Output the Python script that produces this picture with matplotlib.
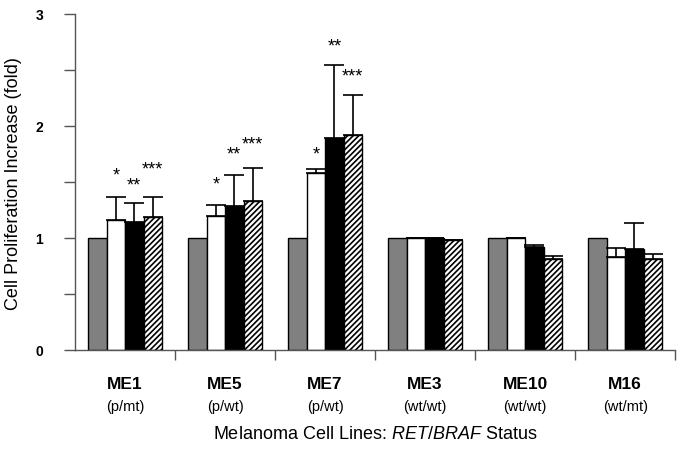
import matplotlib
matplotlib.use('agg')
import matplotlib.pyplot as plt
import numpy as np

plt.rcParams['font.family'] = ['Liberation Sans', 'DejaVu Sans']
plt.rcParams['mathtext.fontset'] = 'custom'
plt.rcParams['mathtext.rm'] = 'Liberation Sans'
plt.rcParams['mathtext.it'] = 'Liberation Sans:italic'
plt.rcParams['hatch.linewidth'] = 1.2

cell_lines = ['ME1', 'ME5', 'ME7', 'ME3', 'ME10', 'M16']
status = ['(p/mt)', '(p/wt)', '(p/wt)', '(wt/wt)', '(wt/wt)', '(wt/mt)']

# four treatments per cell line (gray, white, black, hatched)
control = [1.0, 1.0, 1.0, 1.0, 1.0, 1.0]
white = [1.16, 1.19, 1.58, 0.995, 0.995, 0.83]
black = [1.14, 1.28, 1.89, 0.995, 0.92, 0.90]
hatched = [1.18, 1.33, 1.92, 0.98, 0.81, 0.805]

white_err = [0.20, 0.105, 0.03, 0.005, 0.005, 0.08]
black_err = [0.17, 0.28, 0.655, 0.005, 0.015, 0.23]
hatched_err = [0.18, 0.295, 0.355, 0.0, 0.03, 0.045]

white_star = ['*', '*', '*', '', '', '']
black_star = ['**', '**', '**', '', '', '']
hatched_star = ['***', '***', '***', '', '', '']
white_star_y = [1.56, 1.48, 1.75]
black_star_y = [1.47, 1.75, 2.71]
hatched_star_y = [1.61, 1.84, 2.44]


def main():
    fig = plt.figure(figsize=(6.82, 4.56), dpi=100)
    ax = fig.add_axes([0.110, 0.231, 0.880, 0.737])

    x = np.arange(len(cell_lines))
    w = 0.185
    offs = [-1.5 * w, -0.5 * w, 0.5 * w, 1.5 * w]
    zeros = [0] * len(x)
    ekw = dict(ecolor='black', elinewidth=1.2, capsize=7, capthick=1.2)

    ax.bar(x + offs[0], control, w, color='#808080', edgecolor='black', linewidth=1.0)
    ax.bar(x + offs[1], white, w, color='white', edgecolor='black', linewidth=1.0,
           yerr=[zeros, white_err], error_kw=ekw)
    ax.bar(x + offs[2], black, w, color='black', edgecolor='black', linewidth=1.0,
           yerr=[zeros, black_err], error_kw=ekw)
    ax.bar(x + offs[3], hatched, w, color='white', edgecolor='black', linewidth=1.0,
           hatch='//////', yerr=[zeros, hatched_err], error_kw=ekw)

    for i in range(3):
        ax.text(x[i] + offs[1], white_star_y[i], white_star[i], ha='center', va='center', fontsize=13)
        ax.text(x[i] + offs[2], black_star_y[i], black_star[i], ha='center', va='center', fontsize=13)
        ax.text(x[i] + offs[3], hatched_star_y[i], hatched_star[i], ha='center', va='center', fontsize=13)

    ax.set_xlim(-0.5, len(x) - 0.5)
    ax.set_ylim(0, 3)
    for s in ['top', 'right']:
        ax.spines[s].set_visible(False)
    for s in ['left', 'bottom']:
        ax.spines[s].set_color('#555555')
        ax.spines[s].set_linewidth(1.0)

    ax.set_yticks([0, 1, 2, 3])
    ax.set_yticklabels(['0', '1', '2', '3'], fontsize=10, fontweight='bold')
    ax.set_yticks([0.5, 1.5, 2.5], minor=True)
    ax.tick_params(axis='y', which='both', direction='out', length=8, width=1.0, color='#555555', pad=15)

    ax.set_xticks([])
    ax.set_xticks(np.arange(len(x)) + 0.5, minor=True)
    ax.tick_params(axis='x', which='minor', direction='out', length=7, width=1.0, color='#555555')
    ax.set_xticklabels([], minor=True)

    for i, name in enumerate(cell_lines):
        ax.text(x[i], -0.30, name, ha='center', va='center', fontsize=12.5, fontweight='bold')
        ax.text(x[i], -0.50, status[i], ha='center', va='center', fontsize=10.5)

    ax.text(2.5, -0.745, r'Melanoma Cell Lines: $\it{RET}$/$\it{BRAF}$ Status',
            ha='center', va='center', fontsize=13)
    fig.text(14 / 682, 1 - 184 / 456, 'Cell Proliferation Increase (fold)', rotation=90,
             ha='center', va='center', fontsize=13)

    fig.savefig('out.png', dpi=100)


if __name__ == '__main__':
    main()
